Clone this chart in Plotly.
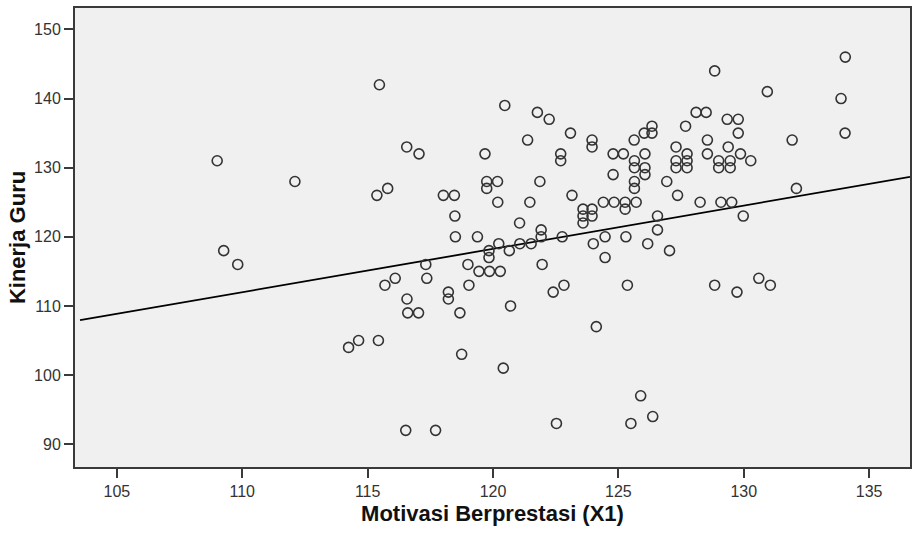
import plotly.graph_objects as go

# Motivasi Berprestasi (X1)
x_vals = [
    109.0, 109.26, 109.82, 112.1,
    115.47, 116.56, 117.05, 115.37, 115.80, 118.02, 118.46, 118.48, 118.5,
    117.32, 117.36, 116.1, 115.69, 116.57, 116.6, 117.03, 118.22, 118.22,
    118.68, 114.24, 114.64, 115.43, 118.75, 116.52, 117.71,
    119.68, 119.75, 119.75, 120.18, 120.19, 120.47, 119.38, 120.23, 119.84,
    119.84, 119.0, 119.44, 119.86, 120.29, 119.04, 120.65, 120.7, 120.41,
    121.07, 121.52, 121.06, 121.92, 121.92, 121.47, 121.38, 121.77, 121.87,
    121.96,
    122.24, 122.70, 122.70, 123.09, 123.15, 122.76, 122.4, 122.83, 122.53,
    123.59, 123.59, 123.59, 123.95, 123.95, 123.95, 123.95, 124.0, 124.12,
    124.4, 124.83, 125.27, 125.27, 125.71, 124.47, 125.3, 124.47, 124.79,
    125.2, 124.79,
    125.63, 126.03, 126.34, 126.34, 126.06, 125.64, 125.64, 126.06, 126.06,
    125.64, 125.64, 126.93, 126.56, 126.56, 126.17, 127.04, 125.36, 125.89,
    125.5, 126.37,
    127.68, 128.1, 128.5, 128.84, 128.55, 127.3, 127.74, 127.3, 127.3,
    127.74, 127.74, 128.55, 129.34, 129.78, 129.78, 129.38, 129.87, 129.0,
    129.0, 129.46, 129.46, 130.28, 127.36, 128.26, 129.09, 129.52, 129.98,
    128.84, 129.73, 130.6, 131.06,
    130.94, 131.93, 132.1, 133.88, 134.04, 134.05,
]

# Kinerja Guru
y_vals = [
    131, 118, 116, 128,
    142, 133, 132, 126, 127, 126, 126, 123, 120,
    116, 114, 114, 113, 111, 109, 109, 112, 111,
    109, 104, 105, 105, 103, 92, 92,
    132, 128, 127, 128, 125, 139, 120, 119, 118,
    117, 116, 115, 115, 115, 113, 118, 110, 101,
    119, 119, 122, 121, 120, 125, 134, 138, 128,
    116,
    137, 132, 131, 135, 126, 120, 112, 113, 93,
    124, 123, 122, 124, 123, 134, 133, 119, 107,
    125, 125, 125, 124, 125, 120, 120, 117, 132,
    132, 129,
    134, 135, 136, 135, 132, 131, 130, 130, 129,
    128, 127, 128, 123, 121, 119, 118, 113, 97,
    93, 94,
    136, 138, 138, 144, 134, 133, 132, 131, 130,
    131, 130, 132, 137, 137, 135, 133, 132, 131,
    130, 131, 130, 131, 126, 125, 125, 125, 123,
    113, 112, 114, 113,
    141, 134, 127, 140, 135, 146,
]

x_ticks = [105, 110, 115, 120, 125, 130, 135]
y_ticks = [90, 100, 110, 120, 130, 140, 150]
x_range = [103.33, 136.63]
y_range = [86.7, 153.1]

x_title = "Motivasi Berprestasi (X1)"
y_title = "Kinerja Guru"

# Fit line (total) as shown in the chart: intercept and slope
fit_intercept = 43.06
fit_slope = 0.6266

line_x = [x_range[0] + 0.2, x_range[1]]
line_y = [fit_intercept + fit_slope * v for v in line_x]

axis_color = "#3a3a3a"
font_family = "Liberation Sans, Arial, sans-serif"

fig = go.Figure()
fig.add_trace(go.Scatter(
    x=line_x, y=line_y, mode="lines",
    line=dict(color="black", width=1.8),
    hoverinfo="skip", showlegend=False,
))
fig.add_trace(go.Scatter(
    x=x_vals, y=y_vals, mode="markers",
    marker=dict(symbol="circle-open", size=10, color="#333333",
                line=dict(width=1.6, color="#333333")),
    showlegend=False,
))

fig.update_layout(
    width=915, height=534,
    margin=dict(l=75, r=3, t=8, b=67),
    paper_bgcolor="white",
    plot_bgcolor="#f0f0f0",
    font=dict(family=font_family, size=16, color="#2a2a2a"),
    showlegend=False,
)
fig.update_xaxes(
    range=x_range, tickvals=x_ticks, ticktext=[str(v) for v in x_ticks],
    showgrid=False, zeroline=False,
    showline=True, linecolor=axis_color, linewidth=2, mirror=True,
    ticks="outside", ticklen=9, tickwidth=2, tickcolor=axis_color,
    tickfont=dict(size=16, color="#333333"),
    title=dict(text="<b>" + x_title + "</b>", font=dict(size=22, color="#111111"), standoff=6),
)
fig.update_yaxes(
    range=y_range, tickvals=y_ticks, ticktext=[str(v) for v in y_ticks],
    showgrid=False, zeroline=False,
    showline=True, linecolor=axis_color, linewidth=2, mirror=True,
    ticks="outside", ticklen=9, tickwidth=2, tickcolor=axis_color,
    tickfont=dict(size=16, color="#333333"),
    title=dict(text="<b>" + y_title + "</b>", font=dict(size=22, color="#111111"), standoff=2),
)

fig.write_html("out.html")
